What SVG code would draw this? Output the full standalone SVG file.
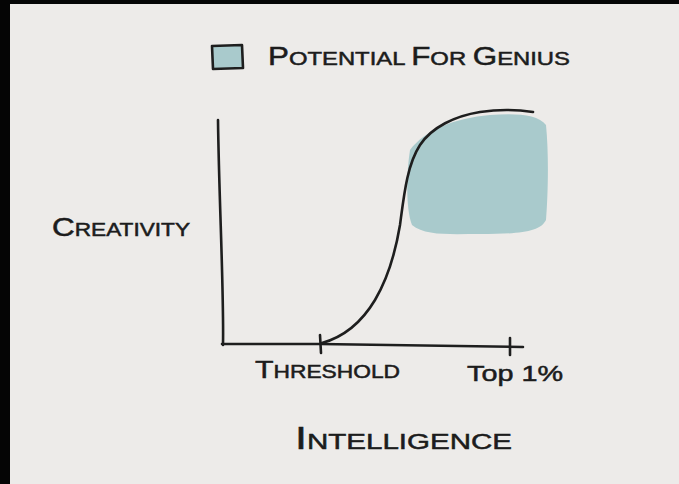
<svg xmlns="http://www.w3.org/2000/svg" width="679" height="484" viewBox="0 0 679 484">
  <style>
    .ink { fill: none; stroke: #1e1e1e; stroke-width: 2.6; stroke-linecap: round; stroke-linejoin: round; }
    .lbl { font-family: "Liberation Sans", "DejaVu Sans", sans-serif; fill: #1c1c1c; stroke: #1c1c1c; stroke-width: 0.5; }
    .teal { fill: #a9cacc; }
  </style>
  <rect x="0" y="0" width="679" height="484" fill="#edebe9"/>
  <rect x="0" y="0" width="10" height="484" fill="#050505"/>
  <rect x="0" y="0" width="679" height="4" fill="#050505"/>

  <g id="legend">
    <path class="teal" d="M212,46 L242,45 L243,68 L213,69 Z"/>
    <path class="ink" d="M212,46 L242,45 L243,68 L213,69 Z"/>
    <text class="lbl" x="268" y="65" textLength="302" lengthAdjust="spacingAndGlyphs"><tspan font-size="25">P</tspan><tspan font-size="19">OTENTIAL </tspan><tspan font-size="25">F</tspan><tspan font-size="19">OR </tspan><tspan font-size="25">G</tspan><tspan font-size="19">ENIUS</tspan></text>
  </g>

  <g id="genius-area">
    <path class="teal" d="M410,150 C425,130 455,118 490,115 C515,113 538,114 546,125 C549,155 548,195 546,220 C540,232 520,234 480,234 C450,234 425,236 412,225 C406,210 406,175 410,150 Z"/>
  </g>

  <g id="axes">
    <path class="ink" d="M218,120 C219,200 224,290 223,345"/>
    <path class="ink" d="M222,344 L320,344 L523,347"/>
    <path class="ink" d="M320,335 L321,353"/>
    <path class="ink" d="M510,338 L510,355"/>
  </g>

  <g id="curve">
    <path class="ink" d="M322,343 C340,338 360,325 375,300 C388,278 395,255 400,225 C404,195 407,165 420,145 C432,127 455,116 480,112 C500,109 520,110 533,112"/>
  </g>

  <g id="labels">
    <text class="lbl" x="52" y="236" textLength="138" lengthAdjust="spacingAndGlyphs"><tspan font-size="25">C</tspan><tspan font-size="18">REATIVITY</tspan></text>
    <text class="lbl" x="255" y="378" textLength="145" lengthAdjust="spacingAndGlyphs"><tspan font-size="24">T</tspan><tspan font-size="18">HRESHOLD</tspan></text>
    <text class="lbl" x="467" y="381" textLength="96" lengthAdjust="spacingAndGlyphs" font-size="22">Top 1%</text>
    <text class="lbl" x="295" y="449" textLength="217" lengthAdjust="spacingAndGlyphs"><tspan font-size="32">I</tspan><tspan font-size="22">NTELLIGENCE</tspan></text>
  </g>
</svg>
